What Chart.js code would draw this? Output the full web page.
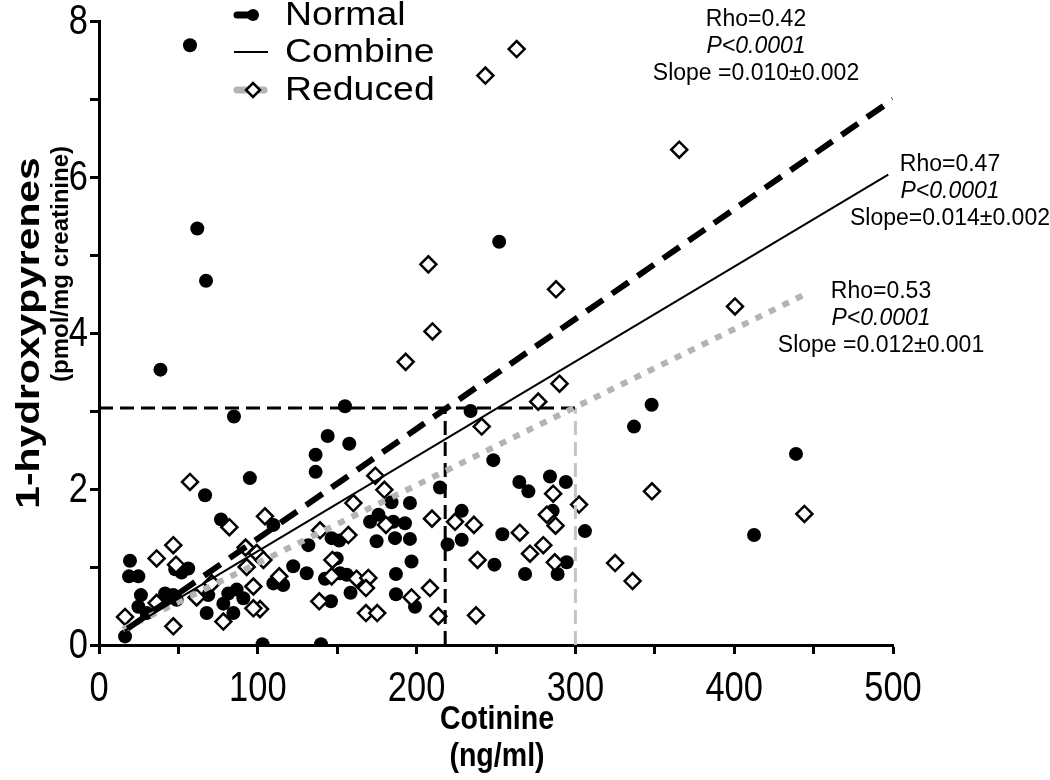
<!DOCTYPE html>
<html>
<head>
<meta charset="utf-8">
<title>1-hydroxypyrenes vs cotinine</title>
<script src="https://cdn.jsdelivr.net/npm/chart.js@4.4.1/dist/chart.umd.min.js"></script>
<style>
  html, body { margin: 0; padding: 0; background: #fff; }
  #wrap { width: 1050px; height: 780px; }
</style>
</head>
<body>
<div id="wrap"><canvas id="chart" width="1050" height="780"></canvas></div>
<script>
// --- data ---
const normalX = [57.3, 61.9, 67.4, 38.7, 85, 154.9, 144, 157.6, 136.4, 136.4, 95, 66.8, 76.8, 214.7, 234, 252,
  248.3, 264.7, 270.4, 284, 294, 348, 336.9, 438.9, 412.5, 306, 285.7, 294.5, 268.3, 288.8, 228.4, 254,
  219.5, 228.4, 249, 184.2, 195.8, 109.8, 170.7, 176, 185.3, 192.7, 131.8, 146.5, 151.3, 174.8, 186.4, 195.8,
  122.3, 130.8, 149.7, 196.8, 109.8, 116, 142.3, 151.8, 156, 158.4, 187, 187, 146.1, 199, 103, 139.8,
  19.5, 18.9, 24.8, 48, 52, 56.2, 26.4, 24.8, 16.4, 30, 41.6, 46.8, 48.9, 68.8, 67.8, 84.6, 78.3, 81.4, 86.7, 90.9];
const normalY = [7.69, 5.34, 4.67, 3.53, 2.93, 3.06, 2.68, 2.58, 2.44, 2.22, 2.14, 1.92, 1.61, 2.02, 3.0, 5.17,
  2.37, 2.09, 1.97, 2.16, 2.09, 3.08, 2.80, 2.45, 1.41, 1.46, 1.72, 1.06, 0.91, 0.91, 1.72, 1.42,
  1.29, 1.35, 1.03, 1.83, 1.82, 1.54, 1.58, 1.67, 1.58, 1.56, 1.28, 1.37, 1.34, 1.33, 1.37, 1.36,
  1.01, 0.92, 1.11, 1.07, 0.79, 0.77, 0.85, 0.92, 0.90, 0.67, 0.91, 0.65, 0.56, 0.49, 0.01, 0.01,
  1.08, 0.88, 0.88, 0.97, 0.93, 0.98, 0.64, 0.49, 0.11, 0.41, 0.66, 0.64, 0.58, 0.64, 0.41, 0.41, 0.53, 0.66, 0.71, 0.60];

const reducedX = [263, 243.3, 365.4, 207.4, 287.8, 400.5, 210, 193.1, 290, 276.6, 241, 57.3, 174, 179.7, 286, 348.2,
  444.2, 302.3, 325, 336, 282, 287.5, 265, 279.8, 271.4, 287, 209.7, 224.2, 236.1, 238.4, 208.4, 213.7,
  237.4, 160.2, 104.5, 180.7, 139.2, 157, 113.5, 146.5, 162.2, 169.6, 168.1, 138.7, 196.8, 168.1, 175.2, 101.4,
  82.1, 36.3, 46.8, 48.5, 36.3, 16.4, 46.8, 61.5, 71, 78.3, 97.2, 97.2, 93, 99.3, 92.3, 103.5, 147];
const reducedY = [7.64, 7.30, 6.35, 4.88, 4.56, 4.34, 4.02, 3.63, 3.35, 3.12, 2.80, 2.09, 2.17, 1.99, 1.94, 1.97,
  1.68, 1.80, 1.05, 0.82, 1.67, 1.53, 1.44, 1.28, 1.17, 1.06, 1.62, 1.58, 1.54, 1.09, 0.73, 0.37,
  0.38, 1.82, 1.65, 1.54, 1.47, 1.41, 0.88, 0.88, 0.85, 0.86, 0.73, 0.56, 0.61, 0.41, 0.41, 0.46,
  1.51, 1.11, 1.28, 1.03, 0.54, 0.36, 0.24, 0.61, 0.79, 0.30, 0.75, 0.47, 1.0, 1.18, 1.25, 1.09, 1.09];

// regression lines (end points)
const normalFitX = [18, 500];
const normalFitY = [0.21, 6.995];
const combineFitX = [16, 497];
const combineFitY = [0.18, 6.03];
const reducedFitX = [15, 445];
const reducedFitY = [0.2, 4.5];

// cut-off guide lines
const cutY = 3.04;
const normalCutX = 218;
const reducedCutX = 300;
const guideHX = [0, reducedCutX], guideHY = [cutY, cutY];
const guideNX = [normalCutX, normalCutX], guideNY = [0, cutY];
const guideRX = [reducedCutX, reducedCutX], guideRY = [0, cutY];

const xTickValues = [0, 50, 100, 150, 200, 250, 300, 350, 400, 450, 500];
const yTickValues = [0, 1, 2, 3, 4, 5, 6, 7, 8];
const xTicksLabelled = [0, 100, 200, 300, 400, 500];
const yTicksLabelled = [0, 2, 4, 6, 8];

const legendNames = ["Normal", "Combine", "Reduced"];
const statsNormal = ["Rho=0.42", "P<0.0001", "Slope =0.010±0.002"];
const statsCombine = ["Rho=0.47", "P<0.0001", "Slope=0.014±0.002"];
const statsReduced = ["Rho=0.53", "P<0.0001", "Slope =0.012±0.001"];
const xTitle = ["Cotinine", "(ng/ml)"];
const yTitle = ["1-hydroxypyrenes", "(pmol/mg creatinine)"];

const pts = (xs, ys) => xs.map((x, i) => ({ x, y: ys[i] }));

const SANS = "'Liberation Sans', Arial, Helvetica, sans-serif";
const GRAY = "#b4b4b4";

function lineSet(xs, ys, color, width, dash, order) {
  return {
    data: pts(xs, ys), showLine: true, borderColor: color, borderWidth: width,
    borderDash: dash, borderCapStyle: "butt", pointRadius: 0, fill: false, order
  };
}

function text(ctx, str, x, y, font, sx, align) {
  ctx.save();
  ctx.translate(x, y);
  ctx.scale(sx || 1, 1);
  ctx.font = font;
  ctx.fillStyle = "#000";
  ctx.textAlign = align || "center";
  ctx.textBaseline = "middle";
  ctx.fillText(str, 0, 0);
  ctx.restore();
}

const overlay = {
  id: "overlay",
  afterDraw(chart) {
    const ctx = chart.ctx;
    const xs = chart.scales.x, ys = chart.scales.y;

    // tick labels (narrow, tall digits as in the original)
    const tickFont = "42px " + SANS;
    xTicksLabelled.forEach(v => text(ctx, String(v), xs.getPixelForValue(v), 689, tickFont, 0.82, "center"));
    yTicksLabelled.forEach(v => text(ctx, String(v), 88, ys.getPixelForValue(v) + 1, tickFont, 0.82, "right"));

    // legend
    ctx.save();
    ctx.lineCap = "round";
    ctx.strokeStyle = "#000"; ctx.lineWidth = 7;
    ctx.beginPath(); ctx.moveTo(237, 15); ctx.lineTo(252, 15); ctx.stroke();
    ctx.fillStyle = "#000";
    ctx.beginPath(); ctx.arc(253, 15, 6, 0, Math.PI * 2); ctx.fill();
    ctx.lineCap = "butt"; ctx.lineWidth = 2;
    ctx.beginPath(); ctx.moveTo(234, 52); ctx.lineTo(268, 52); ctx.stroke();
    ctx.lineCap = "round"; ctx.lineWidth = 7; ctx.strokeStyle = GRAY;
    ctx.beginPath(); ctx.moveTo(237, 90); ctx.lineTo(264, 90); ctx.stroke();
    ctx.fillStyle = "#fff"; ctx.strokeStyle = "#000"; ctx.lineWidth = 2.5;
    ctx.beginPath(); ctx.moveTo(253, 83); ctx.lineTo(260, 90); ctx.lineTo(253, 97); ctx.lineTo(246, 90); ctx.closePath();
    ctx.fill(); ctx.stroke();
    ctx.restore();
    const legY = [15, 52, 90];
    legendNames.forEach((n, i) => text(ctx, n, 285, legY[i] + 1, "34px " + SANS, 1.1, "left"));

    // regression stats
    const blocks = [[statsNormal, 756, 20], [statsCombine, 950, 165], [statsReduced, 881, 292]];
    blocks.forEach(([lines, cx, cy]) => {
      lines.forEach((l, i) => {
        const f = (i === 1 ? "italic " : "") + "23px " + SANS;
        text(ctx, l, cx, cy + i * 26.7, f, 1, "center");
      });
    });

    // axis titles
    text(ctx, xTitle[0], 497, 720, "bold 34px " + SANS, 0.84, "center");
    text(ctx, xTitle[1], 497, 757, "bold 34px " + SANS, 0.84, "center");
    ctx.save();
    ctx.translate(30, 333);
    ctx.rotate(-Math.PI / 2);
    text(ctx, yTitle[0], 0, 0, "bold 34px " + SANS, 1.2, "center");
    text(ctx, yTitle[1], 69, 31, "bold 24px " + SANS, 1, "center");
    ctx.restore();
  }
};

const axisGrid = { drawOnChartArea: false, drawTicks: true, tickLength: 9, tickWidth: 3, tickColor: "#000", color: "#000" };

new Chart(document.getElementById("chart"), {
  type: "scatter",
  data: {
    datasets: [
      lineSet(normalFitX, normalFitY, "#000", 6, [20, 11], 1),
      lineSet(combineFitX, combineFitY, "#000", 2, [], 2),
      lineSet(reducedFitX, reducedFitY, GRAY, 6, [7, 8], 3),
      lineSet(guideHX, guideHY, "#000", 3, [14, 7], 4),
      lineSet(guideNX, guideNY, "#000", 3, [14, 7], 4),
      lineSet(guideRX, guideRY, "#c4c4c4", 3, [14, 7], 4),
      {
        data: pts(reducedX, reducedY), pointStyle: "rectRot", pointRadius: 8,
        pointBackgroundColor: "#fff", pointBorderColor: "#000", pointBorderWidth: 2.5, order: 5
      },
      {
        data: pts(normalX, normalY), pointStyle: "circle", pointRadius: 7,
        pointBackgroundColor: "#000", pointBorderColor: "#000", pointBorderWidth: 0, order: 6
      }
    ]
  },
  options: {
    responsive: false,
    animation: false,
    events: [],
    layout: { padding: { left: 0, right: 157, top: 21, bottom: 0 } },
    plugins: { legend: { display: false }, tooltip: { enabled: false } },
    scales: {
      x: {
        type: "linear", min: 0, max: 500,
        afterFit: s => { s.height = 135; },
        afterBuildTicks: s => { s.ticks = xTickValues.map(v => ({ value: v })); },
        ticks: { callback: () => "", autoSkip: false, maxRotation: 0 },
        grid: axisGrid,
        border: { color: "#000", width: 3 }
      },
      y: {
        type: "linear", min: 0, max: 8,
        afterFit: s => { s.width = 99; },
        afterBuildTicks: s => { s.ticks = yTickValues.map(v => ({ value: v })); },
        ticks: { callback: () => "", autoSkip: false },
        grid: axisGrid,
        border: { color: "#000", width: 3 }
      }
    }
  },
  plugins: [overlay]
});
</script>
</body>
</html>
